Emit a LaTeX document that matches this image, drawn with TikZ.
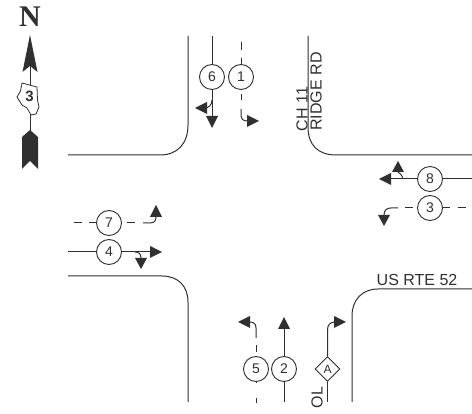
\documentclass[tikz,border=0pt]{standalone}
\usepackage{fontspec}
\setmainfont{Liberation Sans}
\newfontfamily\nfont{Liberation Serif}
\usetikzlibrary{shapes.geometric}
\definecolor{ink}{HTML}{303030}
\tikzset{
  x=1pt,y=-1pt,
  curb/.style={draw=ink,line width=1pt},
  lane/.style={draw=ink,line width=1pt},
  phase/.style={circle,draw=ink,fill=white,line width=0.9pt,minimum size=25pt,inner sep=0pt,font=\fontsize{14}{14}\selectfont,text=ink},
  overlap/.style={diamond,draw=ink,fill=white,line width=0.9pt,minimum size=25pt,inner sep=0pt,font=\fontsize{12}{12}\selectfont,text=ink},
  streetlabel/.style={font=\fontsize{16}{16}\selectfont,text=ink,inner sep=0pt},
}
\begin{document}
\begin{tikzpicture}
\useasboundingbox (0,0) rectangle (472,414);
% curbs
\draw[curb] (188,36) -- (188,125) .. controls (188,143) and (178,155) .. (160,155) -- (68,155);
\draw[curb] (308,36) -- (308,127) .. controls (308,145) and (318,155) .. (336,155) -- (472,155);
\draw[curb] (68,276) -- (162,276) .. controls (178,276) and (188,286) .. (188,302) -- (188,402);
\draw[curb] (352,402) -- (352,316) .. controls (352,300) and (362,289) .. (378,289) -- (472,289);
% north arrow
\node[font=\nfont\bfseries\fontsize{30}{30}\selectfont,text=ink,inner sep=0pt] (north) at (30,17) {N};
\coordinate (nstem) at (30,66);
\coordinate (sstem) at (30,131);
\draw[lane] (nstem) -- (sstem);
\fill[ink] (30,35) -- (37.5,72) -- (30,66) -- (22.5,72) -- cycle;
\fill[ink] (30,130) -- (38,137) -- (38,169) -- (30,161) -- (22,169) -- (22,137) -- cycle;
\draw[draw=ink,fill=white,line width=0.8pt] (22,83) -- (37,87) -- (37.5,100) -- (39,107) -- (36,114) -- (31,115) -- (27,108) -- (22,105) -- (17,97) -- (20.5,91) -- cycle;
\node[font=\bfseries\fontsize{15}{15}\selectfont,text=ink,inner sep=0pt] (shield) at (29.5,96.5) {3};
% labels
\node[streetlabel,rotate=90] (ch) at (302,109) {CH 11};
\node[streetlabel,rotate=90] (ridge) at (316,91.5) {RIDGE RD};
\node[streetlabel,anchor=base west] (us) at (376.5,286) {US RTE 52};
\node[streetlabel,rotate=90] (ol) at (317,397.5) {OL};
% phase 6
\node[phase] (p6) at (212,77) {6};
\coordinate (p6top) at (212,36);
\coordinate (p6end) at (212,116);
\draw[lane] (p6top) -- (p6);
\draw[lane] (p6) -- (p6end);
\draw[lane] (212,100) .. controls (212,105) and (209,108) .. (204,108);
\fill[ink] (212,128) -- (206,116) -- (218,116) -- cycle;
\fill[ink] (195,108) -- (207,102) -- (207,114) -- cycle;
% phase 1
\node[phase] (p1) at (241,77) {1};
\draw[lane] (241,42) -- (241,50);
\draw[lane] (241,58) -- (p1);
\draw[lane] (241,94) -- (241,100);
\draw[lane] (241,109) -- (241,115) .. controls (241,119) and (243,121) .. (248,121);
\fill[ink] (259,121) -- (247,115) -- (247,127) -- cycle;
% phase 8
\node[phase] (p8) at (430,179) {8};
\coordinate (p8r) at (472,179);
\coordinate (p8l) at (389,179);
\draw[lane] (p8r) -- (p8);
\draw[lane] (p8) -- (p8l);
\draw[lane] (403,179) .. controls (402,175) and (400,173) .. (398,172);
\fill[ink] (379,179) -- (391,173) -- (391,185) -- cycle;
\fill[ink] (398,161) -- (392,172) -- (404,172) -- cycle;
% phase 3
\node[phase] (p3) at (430,208) {3};
\draw[lane] (458,208) -- (466,208);
\draw[lane] (p3) -- (450,208);
\draw[lane] (405,208) -- (413,208);
\draw[lane] (398,208) -- (391,208) .. controls (387,208) and (384,210) .. (384,215);
\fill[ink] (384,226) -- (378,215) -- (390,215) -- cycle;
% phase 7
\node[phase] (p7) at (109,223) {7};
\draw[lane] (74,223) -- (82,223);
\draw[lane] (89,223) -- (p7);
\draw[lane] (127,223) -- (135,223);
\draw[lane] (143,223) -- (150,223) .. controls (154,223) and (156,221) .. (156,217);
\fill[ink] (156,205) -- (150,217) -- (162,217) -- cycle;
% phase 4
\node[phase] (p4) at (109,252) {4};
\coordinate (p4l) at (68,252);
\coordinate (p4r) at (151,252);
\draw[lane] (p4l) -- (p4);
\draw[lane] (p4) -- (p4r);
\draw[lane] (135,252) .. controls (139,252) and (141,254) .. (141,258);
\fill[ink] (162,252) -- (150,246) -- (150,258) -- cycle;
\fill[ink] (141,269) -- (135,258) -- (147,258) -- cycle;
% phase 5
\node[phase] (p5) at (256,369) {5};
\draw[lane] (256,398) -- (256,403);
\draw[lane] (256,382) -- (p5);
\draw[lane] (256,345) -- (256,352);
\draw[lane] (256,338) -- (256,328) .. controls (256,324) and (254,322) .. (250,322);
\fill[ink] (238,322) -- (250,316) -- (250,328) -- cycle;
% phase 2
\node[phase] (p2) at (284,369) {2};
\coordinate (p2b) at (284,402);
\coordinate (p2t) at (284,328);
\draw[lane] (p2b) -- (p2);
\draw[lane] (p2) -- (p2t);
\fill[ink] (284,317) -- (278,329) -- (290,329) -- cycle;
% overlap A
\node[overlap] (oa) at (327.5,369) {A};
\coordinate (oab) at (327.5,402);
\draw[lane] (oab) -- (oa);
\draw[lane] (oa) -- (327.5,330) .. controls (327.5,325) and (330,322) .. (335,322);
\fill[ink] (346,322) -- (334,316) -- (334,328) -- cycle;
\end{tikzpicture}
\end{document}
